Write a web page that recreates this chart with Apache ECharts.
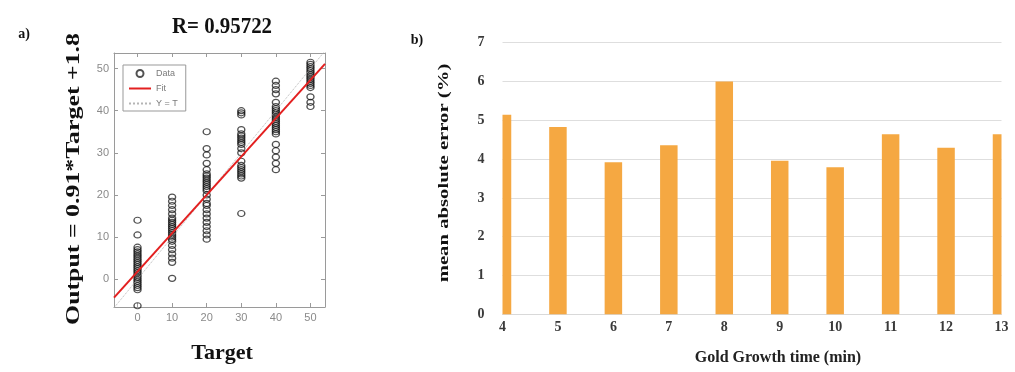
<!DOCTYPE html>
<html>
<head>
<meta charset="utf-8">
<script src="https://cdn.jsdelivr.net/npm/echarts@6/dist/echarts.min.js"></script>
<style>
  html, body { margin: 0; padding: 0; background: #fff; }
  #chart { width: 1015px; height: 372px; }
</style>
</head>
<body>
<div id="chart"></div>
<script>
// ---- panel a) regression of network output against target ----
const targets = [0, 10, 20, 30, 40, 50];
const outputsAt0  = [14, 10.5, 7.6, 7, 6.5, 6, 5.5, 5, 4.5, 4, 3.5, 3, 2.5, 2, 1.5, 1, 0.5, 0, -0.5, -1, -1.5, -2, -2.5, -6.3];
const outputsAt10 = [19.5, 18.5, 17.5, 16.5, 15.5, 14.5, 14, 13.5, 13, 12.5, 12, 11.5, 11, 10.5, 10, 9.5, 9, 8, 7, 6, 5, 4, 0.2];
const outputsAt20 = [35, 31, 29.5, 27.5, 26, 25, 24.5, 24, 23.5, 23, 22.5, 22, 21.5, 21, 20, 19, 18, 17.5, 16.5, 15.5, 14.5, 13.5, 12.5, 11.5, 10.5, 9.5];
const outputsAt30 = [40, 39.5, 39, 35.5, 34.5, 34, 33.5, 33, 32.5, 32, 31, 30, 28, 27, 26.5, 26, 25.5, 25, 24.5, 24, 15.6];
const outputsAt40 = [47, 46, 45, 44, 42, 41, 40.5, 40, 39.5, 39, 38.5, 38, 37.5, 37, 36.5, 36, 35.5, 35, 34.5, 32, 30.5, 29, 27.5, 26];
const outputsAt50 = [51.5, 51, 50.5, 50, 49.5, 49, 48.5, 48, 47.5, 47, 46.5, 46, 45.5, 43.3, 42, 41];
const outputsByTarget = [outputsAt0, outputsAt10, outputsAt20, outputsAt30, outputsAt40, outputsAt50];

const FIT_SLOPE = 0.91;
const FIT_INTERCEPT = 1.8;
const R_VALUE = '0.95722';
const regTicks = [0, 10, 20, 30, 40, 50];

// ---- panel b) mean absolute error per gold growth time ----
const growthTimes = ['4', '5', '6', '7', '8', '9', '10', '11', '12', '13'];
const maeValues = [5.14, 4.83, 3.92, 4.36, 6.0, 3.96, 3.79, 4.64, 4.29, 4.64];

// axis extents of the regression box
const xMin = -6.8, xMax = 54.2;
const yMin = -6.6, yMax = 53.7;

const scatterData = [];
targets.forEach((t, i) => outputsByTarget[i].forEach(v => scatterData.push([t, v])));
const fitData = [[xMin, FIT_SLOPE * xMin + FIT_INTERCEPT], [xMax, FIT_SLOPE * xMax + FIT_INTERCEPT]];
const identityData = [[xMin, xMin], [xMax, xMax]];
const barData = maeValues.map((v, i) => [i, v]);

const SERIF = '"Liberation Serif", "Times New Roman", serif';
const SANS = '"Liberation Sans", Arial, sans-serif';
const boxColor = '#9a9a9a';
const BAR_WIDTH = 17.5;

const tickFormatter = v => (regTicks.indexOf(v) >= 0 ? String(v) : '');

function regAxis(extra) {
  return Object.assign({
    type: 'value',
    gridIndex: 0,
    splitLine: { show: false },
    axisLine: { show: true, onZero: false, lineStyle: { color: boxColor, width: 1 } },
    axisTick: { show: true, inside: true, length: 4, lineStyle: { color: boxColor } },
    axisLabel: { show: true, color: '#8a8a8a', fontFamily: SANS, fontSize: 11, margin: 5, formatter: tickFormatter,
                 showMinLabel: false, showMaxLabel: false }
  }, extra);
}

// bars centred on the category ticks, cut at the plot edges
function renderBar(params, api) {
  const base = api.coord([api.value(0), 0]);
  const top = api.coord([api.value(0), api.value(1)]);
  const cs = params.coordSys;
  const rect = echarts.graphic.clipRectByRect(
    { x: base[0] - BAR_WIDTH / 2, y: top[1], width: BAR_WIDTH, height: base[1] - top[1] },
    { x: cs.x, y: cs.y, width: cs.width, height: cs.height }
  );
  return rect && { type: 'rect', shape: rect, style: api.style() };
}

const chart = echarts.init(document.getElementById('chart'), null, { renderer: 'canvas' });

const hiddenSymbol = { color: 'rgba(0,0,0,0)', borderWidth: 0 };

chart.setOption({
  animation: false,
  backgroundColor: '#ffffff',
  grid: [
    { left: 114, top: 53, width: 211, height: 254 },
    { left: 502.5, top: 42.7, right: 13.5, bottom: 57.7 }
  ],
  xAxis: [
    regAxis({ min: xMin, max: xMax, position: 'bottom' }),
    regAxis({ min: xMin, max: xMax, position: 'top', axisLabel: { show: false } }),
    {
      type: 'category', gridIndex: 1, data: growthTimes, boundaryGap: false,
      axisLine: { show: true, lineStyle: { color: '#d9d9d9' } },
      axisTick: { show: false },
      axisLabel: { color: '#3a3a3a', fontFamily: SERIF, fontWeight: 'bold', fontSize: 14, margin: 6,
                   showMinLabel: true, showMaxLabel: true, interval: 0 },
      splitLine: { show: false }
    }
  ],
  yAxis: [
    regAxis({ min: yMin, max: yMax, position: 'left' }),
    regAxis({ min: yMin, max: yMax, position: 'right', axisLabel: { show: false } }),
    {
      type: 'value', gridIndex: 1, min: 0, max: 7, interval: 1,
      axisLine: { show: false }, axisTick: { show: false },
      axisLabel: { color: '#3a3a3a', fontFamily: SERIF, fontWeight: 'bold', fontSize: 14, margin: 18 },
      splitLine: { show: true, lineStyle: { color: '#dedede', width: 1 } }
    }
  ],
  legend: {
    orient: 'vertical',
    left: 123, top: 65,
    data: ['Data', 'Fit', 'Y = T'],
    borderColor: '#999', borderWidth: 1, borderRadius: 0,
    padding: [4, 8, 3, 5],
    itemGap: 6, itemWidth: 22, itemHeight: 7,
    textStyle: { color: '#7a7a7a', fontFamily: SANS, fontSize: 9 }
  },
  series: [
    {
      name: 'Data', type: 'scatter', xAxisIndex: 0, yAxisIndex: 0,
      data: scatterData, symbol: 'circle', symbolSize: [7, 6],
      itemStyle: { color: 'rgba(0,0,0,0)', borderColor: 'rgba(15,15,15,0.9)', borderWidth: 1.3 }
    },
    {
      name: 'Fit', type: 'line', xAxisIndex: 0, yAxisIndex: 0,
      data: fitData, symbol: 'none', clip: true,
      itemStyle: hiddenSymbol,
      lineStyle: { color: '#e32020', width: 2 }, z: 4
    },
    {
      name: 'Y = T', type: 'line', xAxisIndex: 0, yAxisIndex: 0,
      data: identityData, symbol: 'none', clip: true,
      itemStyle: hiddenSymbol,
      lineStyle: { color: '#b5b5b5', width: 1, type: 'dotted' }, z: 3
    },
    {
      name: 'MAE', type: 'custom', xAxisIndex: 2, yAxisIndex: 2,
      data: barData, renderItem: renderBar,
      encode: { x: 0, y: 1 },
      itemStyle: { color: '#F5A842' }
    }
  ],
  graphic: [
    { type: 'text', x: 24, y: 34, style: { text: 'a)', font: 'bold 14px ' + SERIF, fill: '#111', align: 'center', verticalAlign: 'middle' } },
    { type: 'text', x: 222, y: 27, scaleX: 0.87, style: { text: 'R= ' + R_VALUE, font: 'bold 24px ' + SERIF, fill: '#111', align: 'center', verticalAlign: 'middle' } },
    { type: 'text', x: 74, y: 179, rotation: Math.PI / 2, scaleX: 1.36, style: { text: 'Output = ' + FIT_SLOPE + '*Target +' + FIT_INTERCEPT, font: 'bold 19px ' + SERIF, fill: '#111', align: 'center', verticalAlign: 'middle' } },
    { type: 'text', x: 222, y: 353, style: { text: 'Target', font: 'bold 22px ' + SERIF, fill: '#111', align: 'center', verticalAlign: 'middle' } },
    { type: 'text', x: 417, y: 40, style: { text: 'b)', font: 'bold 14px ' + SERIF, fill: '#111', align: 'center', verticalAlign: 'middle' } },
    { type: 'text', x: 444, y: 173, rotation: Math.PI / 2, scaleX: 1.38, style: { text: 'mean absolute error (%)', font: 'bold 15px ' + SERIF, fill: '#111', align: 'center', verticalAlign: 'middle' } },
    { type: 'text', x: 778, y: 358, style: { text: 'Gold Growth time (min)', font: 'bold 16px ' + SERIF, fill: '#222', align: 'center', verticalAlign: 'middle' } }
  ]
});
</script>
</body>
</html>
